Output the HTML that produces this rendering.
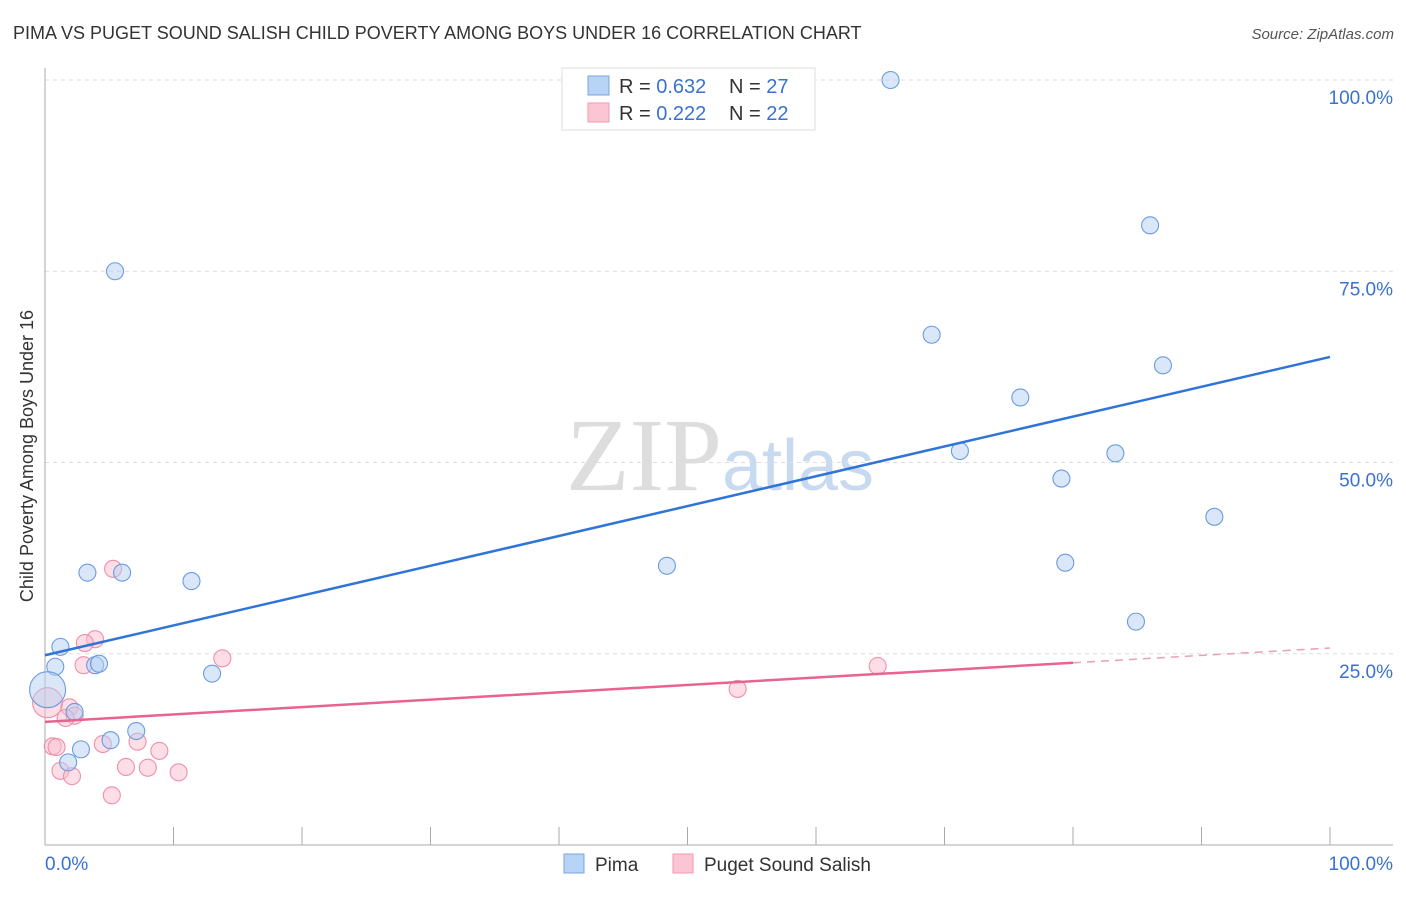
<!DOCTYPE html>
<html><head><meta charset="utf-8">
<style>
html,body{margin:0;padding:0;background:#fff;}
body{width:1406px;height:892px;overflow:hidden;font-family:"Liberation Sans",sans-serif;}
</style></head>
<body>
<svg id="chart" width="1406" height="892" xmlns="http://www.w3.org/2000/svg" font-family="Liberation Sans, sans-serif">
<text x="13" y="39" font-size="18" fill="#333">PIMA VS PUGET SOUND SALISH CHILD POVERTY AMONG BOYS UNDER 16 CORRELATION CHART</text>
<text x="1394" y="39" font-size="15" fill="#555" font-style="italic" text-anchor="end">Source: ZipAtlas.com</text>
<text x="720" y="490" font-size="104" text-anchor="middle" fill="#ddd" font-family="Liberation Serif, serif">ZIP<tspan fill="#c8daf0" font-family="Liberation Sans, sans-serif" font-size="72">atlas</tspan></text>
<g id="grid"></g>
<g id="axes"></g>
<text transform="translate(33,456) rotate(-90)" font-size="18" fill="#333" text-anchor="middle">Child Poverty Among Boys Under 16</text>
<g id="pink"></g>
<g id="blue"></g>
<g id="trends"></g>
<g>
<rect x="562" y="68" width="253" height="62" fill="#fff" stroke="#ddd"/>
<rect x="588" y="76" width="21" height="19" fill="#b7d3f5" stroke="#7aa6e0"/>
<rect x="588" y="103" width="21" height="19" fill="#fcc5d4" stroke="#ee9ab2"/>
<text x="619" y="93" font-size="20" fill="#333">R = <tspan fill="#3a72d0">0.632</tspan></text>
<text x="729" y="93" font-size="20" fill="#333">N = <tspan fill="#3a72d0">27</tspan></text>
<text x="619" y="120" font-size="20" fill="#333">R = <tspan fill="#3a72d0">0.222</tspan></text>
<text x="729" y="120" font-size="20" fill="#333">N = <tspan fill="#3a72d0">22</tspan></text>
</g>
<g>
<rect x="564" y="854" width="20" height="19" fill="#b7d3f5" stroke="#7aa6e0"/>
<text x="595" y="871" font-size="19" fill="#333">Pima</text>
<rect x="673" y="854" width="20" height="19" fill="#fcc5d4" stroke="#ee9ab2"/>
<text x="704" y="871" font-size="19" fill="#333">Puget Sound Salish</text>
</g>
</svg>
<script>
const pimaX=[5.45,65.8,86.0,69.0,87.0,75.9,71.2,83.3,79.1,91.0,48.4,79.4,84.9,3.3,6.0,11.4,1.2,0.8,3.9,4.2,13.0,0.2,2.3,7.1,5.1,2.8,1.8];
const pimaY=[75.0,100,81.0,66.7,62.7,58.5,51.5,51.2,47.9,42.9,36.5,36.9,29.2,35.6,35.6,34.5,25.9,23.3,23.5,23.7,22.4,20.3,17.4,14.9,13.7,12.5,10.8];
const pugetX=[5.3,3.9,3.1,3.0,13.8,53.9,64.8,0.2,1.9,2.3,1.6,4.5,7.2,0.6,0.9,8.9,6.3,8.0,1.2,2.1,10.4,5.2];
const pugetY=[36.1,26.9,26.4,23.5,24.4,20.4,23.4,18.6,18.0,16.9,16.6,13.2,13.5,12.9,12.8,12.3,10.2,10.1,9.7,9.0,9.5,6.5];
const yTicks=[25,50,75,100];
const yTickLabels=["25.0%","50.0%","75.0%","100.0%"];
const xTickLabels=["0.0%","100.0%"];
const pimaTrend=[24.8,63.8];
const pugetTrend=[16.1,25.75];

const NS="http://www.w3.org/2000/svg";
const X0=45,X1=1330,Y0=845,Y100=80;
function xs(v){return X0+(X1-X0)*v/100;}
function ys(v){return Y0-(Y0-Y100)*v/100;}
function mk(tag,attrs,parent){const e=document.createElementNS(NS,tag);for(const k in attrs)e.setAttribute(k,attrs[k]);parent.appendChild(e);return e;}

const grid=document.getElementById('grid');
yTicks.forEach((t,i)=>{
  const l=mk('line',{x1:X0,x2:1393,y1:ys(t),y2:ys(t),stroke:'#ddd','stroke-dasharray':'4,4'},grid);
  
  
  const tx=mk('text',{x:1393,y:ys(t)+24,'font-size':19,fill:'#3a72d0','text-anchor':'end'},grid);
  tx.textContent=yTickLabels[i];
  
  
});
const axes=document.getElementById('axes');
mk('line',{x1:X0,x2:X0,y1:68,y2:Y0,stroke:'#aaa'},axes);
mk('line',{x1:X0,x2:1393,y1:Y0,y2:Y0,stroke:'#aaa'},axes);
for(let i=1;i<=10;i++){mk('line',{x1:xs(i*10),x2:xs(i*10),y1:827,y2:Y0,stroke:'#aaa'},axes);}
const xl0=mk('text',{x:45,y:870,'font-size':19,fill:'#3a72d0'},axes);xl0.textContent=xTickLabels[0];


const xl1=mk('text',{x:1393,y:870,'font-size':19,fill:'#3a72d0','text-anchor':'end'},axes);xl1.textContent=xTickLabels[1];



function dots(X,Y,g,fill,stroke,name,bigR){
  X.forEach((x,i)=>{
    const big=(x<0.5&&Y[i]>18&&Y[i]<21);
    const c=mk('circle',{cx:xs(x),cy:ys(Y[i]),r:big?bigR:8.5,fill:fill,'fill-opacity':0.5,stroke:stroke,'stroke-width':1.1},g);
    
    
  });
}
dots(pugetX,pugetY,document.getElementById('pink'),'#fbbdd0','#ee8fab','puget-point',15);
dots(pimaX,pimaY,document.getElementById('blue'),'#b3d0f3','#6b9be0','pima-point',18);

const tr=document.getElementById('trends');
const bl=mk('line',{x1:xs(0),y1:ys(pimaTrend[0]),x2:xs(100),y2:ys(pimaTrend[1]),stroke:'#2f74d8','stroke-width':2.5},tr);


const pAt=v=>pugetTrend[0]+(pugetTrend[1]-pugetTrend[0])*v/100;
const pl=mk('line',{x1:xs(0),y1:ys(pAt(0)),x2:xs(80),y2:ys(pAt(80)),stroke:'#e8648f','stroke-width':2.5},tr);


const pd=mk('line',{x1:xs(80),y1:ys(pAt(80)),x2:xs(100),y2:ys(pAt(100)),stroke:'#e8a0b6','stroke-width':1.5,'stroke-dasharray':'8,6'},tr);


</script>
</body></html>
